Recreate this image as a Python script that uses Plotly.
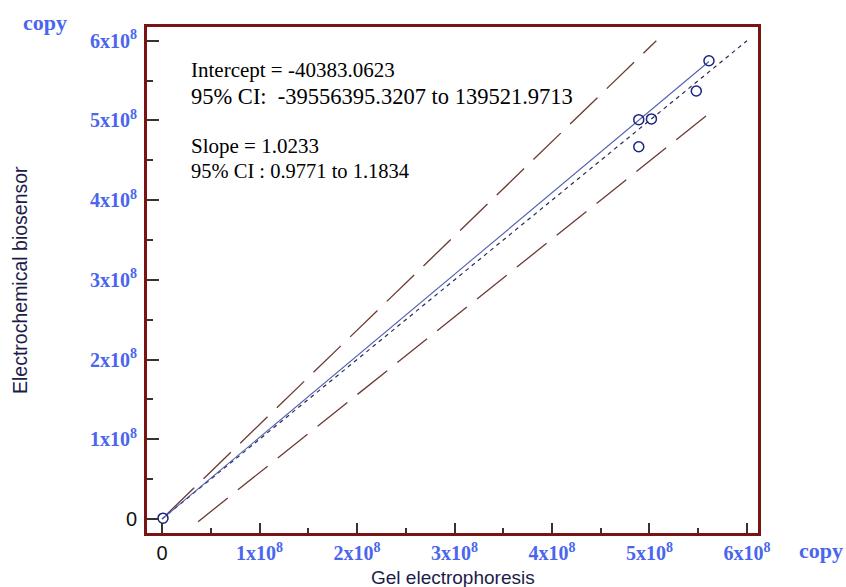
import plotly.graph_objects as go

# ---- data ----
gel = [0.01e8, 4.89e8, 5.02e8, 4.89e8, 5.48e8, 5.61e8]
bio = [0.01e8, 5.01e8, 5.02e8, 4.67e8, 5.37e8, 5.75e8]

intercept = -40383.0623
slope = 1.0233
int_lo, int_hi = -39556395.3207, 139521.9713
slope_lo, slope_hi = 0.9771, 1.1834

fit_x = [0, 5.61e8]
identity_x = [0, 6e8]
upper_x = [0.05e8, 5.07e8]
lower_x = [0.37e8, 5.6e8]

tick_vals = [0, 1e8, 2e8, 3e8, 4e8, 5e8, 6e8]
tick_txt = ['<span style="font-family:Liberation Sans;font-weight:normal;color:#111111">0</span>'] + \
           [f"{i}x10<sup>8</sup>" for i in range(1, 7)]

stat_lines = ["Intercept = -40383.0623",
              "95% CI:&nbsp; -39556395.3207 to 139521.9713",
              "Slope = 1.0233",
              "95% CI : 0.9771 to 1.1834"]
stat_sizes = [21, 22.5, 21, 20.5]

BLUE = "#4a66ee"
FRAME = "#7a1414"

fig = go.Figure()

fig.add_trace(go.Scatter(x=identity_x, y=identity_x, mode="lines",
                         line=dict(color="#2a2a55", width=1.2, dash="4px,4px"), showlegend=False))
fig.add_trace(go.Scatter(x=upper_x, y=[int_hi + slope_hi * v for v in upper_x], mode="lines",
                         line=dict(color="#6b3a30", width=1.3, dash="38px,13px"), showlegend=False))
fig.add_trace(go.Scatter(x=lower_x, y=[int_lo + slope_lo * v for v in lower_x], mode="lines",
                         line=dict(color="#6b3a30", width=1.3, dash="38px,13px"), showlegend=False))
fig.add_trace(go.Scatter(x=fit_x, y=[intercept + slope * v for v in fit_x], mode="lines",
                         line=dict(color="#5060b0", width=1.1), showlegend=False))
fig.add_trace(go.Scatter(x=gel, y=bio, mode="markers",
                         marker=dict(symbol="circle-open", size=10, color="#1a237e", line=dict(width=1.5)),
                         showlegend=False))

axis_common = dict(
    showgrid=False, zeroline=False, showline=True, linecolor=FRAME, linewidth=3, mirror=True,
    automargin=False,
    ticks="inside", tickwidth=1.5, tickcolor="#333333",
    tickmode="array", tickvals=tick_vals, ticktext=tick_txt,
    tickfont=dict(family="Liberation Serif", size=20, color=BLUE, weight="bold"),
)

fig.update_layout(
    width=846, height=587,
    margin=dict(l=147, r=88, t=27, b=54),
    plot_bgcolor="white", paper_bgcolor="white",
    xaxis=dict(range=[-0.154e8, 6.113e8], ticklen=10, ticklabelstandoff=0,
               minor=dict(ticks="inside", ticklen=5, tickwidth=1.5, tickcolor="#333333", dtick=0.5e8, tick0=0),
               **axis_common),
    yaxis=dict(range=[-0.176e8, 6.173e8], ticklen=12, ticklabelstandoff=3,
               minor=dict(ticks="inside", ticklen=6, tickwidth=1.5, tickcolor="#333333", dtick=0.5e8, tick0=0),
               **axis_common),
)

# plot area: x 147..758 px, y 27..533 px
def px(x):
    return (x - 147) / 611

def py(y):
    return (533 - y) / 506

for txt, sz, yc in zip(stat_lines, stat_sizes, [70, 96, 146, 171]):
    fig.add_annotation(text=txt, xref="paper", yref="paper", x=px(189), y=py(yc),
                       xanchor="left", yanchor="middle", showarrow=False,
                       font=dict(family="Liberation Serif", size=sz, color="black"))

fig.add_annotation(text="Electrochemical biosensor", xref="paper", yref="paper", x=px(20), y=py(280),
                   textangle=-90, showarrow=False, xanchor="center", yanchor="middle",
                   font=dict(family="Liberation Sans", size=19.5, color="#1c1c4a"))
fig.add_annotation(text="Gel electrophoresis", xref="paper", yref="paper", x=px(453), y=py(577),
                   showarrow=False, xanchor="center", yanchor="middle",
                   font=dict(family="Liberation Sans", size=19, color="#1c1c4a"))

fig.add_annotation(text="copy", xref="paper", yref="paper", x=px(45), y=py(22), xanchor="center", yanchor="middle",
                   showarrow=False, font=dict(family="Liberation Serif", size=22, color=BLUE, weight="bold"))
fig.add_annotation(text="copy", xref="paper", yref="paper", x=px(821), y=py(550), xanchor="center", yanchor="middle",
                   showarrow=False, font=dict(family="Liberation Serif", size=22, color=BLUE, weight="bold"))

fig.write_html("out.html", config={"displayModeBar": False},
               post_script="document.body.style.margin='0';document.body.style.overflow='hidden';")
